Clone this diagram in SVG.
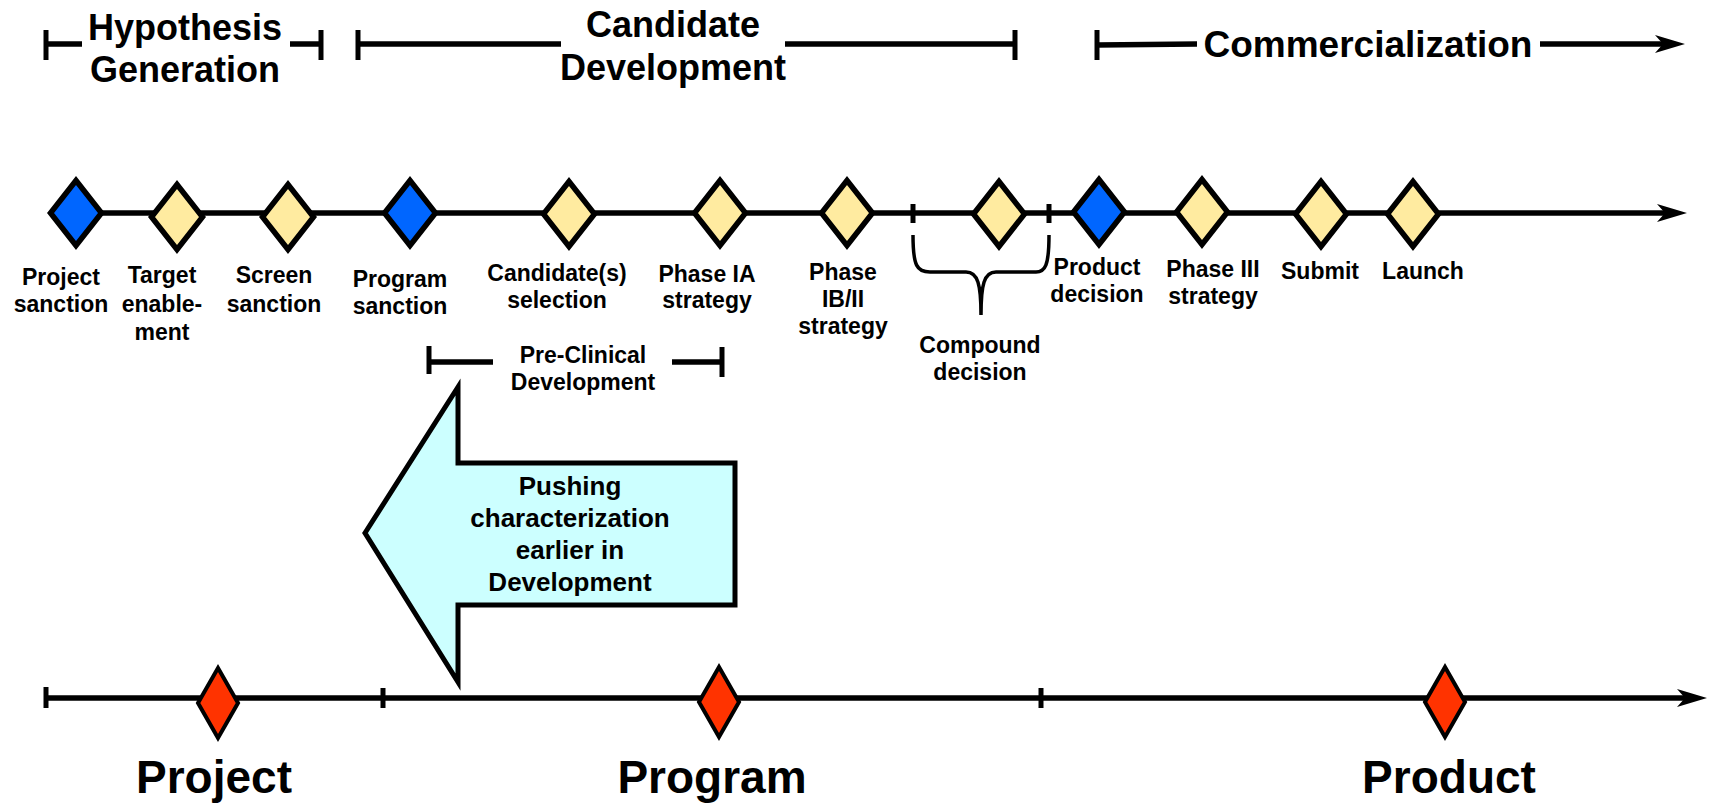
<svg xmlns="http://www.w3.org/2000/svg" width="1714" height="804" viewBox="0 0 1714 804">
<style>
text{font-family:"Liberation Sans",Arial,sans-serif;font-weight:bold;fill:#000;text-anchor:middle}
.hd{font-size:36px}
.hd2{font-size:37px}
.lb{font-size:23px}
.big{font-size:46px}
.ar{font-size:26px}
.ln{stroke:#000;stroke-width:5.5;fill:none}
.tk{stroke:#000;stroke-width:5}
.thin{stroke:#000;stroke-width:3.5;fill:none}
.blue{fill:#0066FF;stroke:#000;stroke-width:5.5;stroke-linejoin:miter}
.yel{fill:#FFEBA0;stroke:#000;stroke-width:5.5;stroke-linejoin:miter}
.red{fill:#FF3300;stroke:#000;stroke-width:4;stroke-linejoin:miter}
.bigarrow{fill:#CCFFFF;stroke:#000;stroke-width:5;stroke-linejoin:miter}
</style>
<defs>
<marker id="ah" markerUnits="userSpaceOnUse" viewBox="0 0 30 20" refX="10" refY="10" markerWidth="30" markerHeight="20" orient="auto">
<path d="M0,1 L30,10 L0,19 L8,10 Z" fill="#000"/>
</marker>
<polygon id="dm" points="0,-32.5 25.5,0 0,32.5 -25.5,0"/>
<polygon id="rdm" points="0,-35 20,0 0,35 -20,0"/>
</defs>

<g id="connectors">
<!-- phase brackets -->
<line class="ln" x1="46" y1="44" x2="82" y2="44"/>
<line class="tk" x1="46" y1="30" x2="46" y2="60"/>
<line class="ln" x1="290" y1="44" x2="321" y2="44"/>
<line class="tk" x1="321" y1="30" x2="321" y2="60"/>
<line class="ln" x1="358" y1="44" x2="561" y2="44"/>
<line class="tk" x1="358" y1="30" x2="358" y2="60"/>
<line class="ln" x1="785" y1="44" x2="1015" y2="44"/>
<line class="tk" x1="1015" y1="30" x2="1015" y2="60"/>
<line class="ln" x1="1097" y1="45" x2="1197" y2="44"/>
<line class="tk" x1="1097" y1="30" x2="1097" y2="60"/>
<line class="ln" x1="1540" y1="44" x2="1665" y2="44" marker-end="url(#ah)"/>
<!-- middle timeline -->
<line class="ln" x1="76" y1="213" x2="1667" y2="213" marker-end="url(#ah)"/>
<line class="tk" x1="913" y1="204" x2="913" y2="223"/>
<line class="tk" x1="1049" y1="204" x2="1049" y2="223"/>
<path class="thin" d="M913,235 C913,266 917,272 930,272 L966,272 C978,272 981,285 981,315 C981,285 984,272 996,272 L1036,272 C1045,272 1049,266 1049,235"/>
<!-- pre-clinical bracket -->
<line class="ln" x1="429" y1="362" x2="493" y2="362"/>
<line class="tk" x1="429" y1="346" x2="429" y2="374"/>
<line class="ln" x1="672" y1="362" x2="722" y2="362"/>
<line class="tk" x1="722" y1="347" x2="722" y2="377"/>
<!-- bottom timeline -->
<line class="ln" x1="46" y1="698" x2="1687" y2="698" marker-end="url(#ah)"/>
<line class="tk" x1="46" y1="687" x2="46" y2="708"/>
<line class="tk" x1="383" y1="688" x2="383" y2="708"/>
<line class="tk" x1="1041" y1="688" x2="1041" y2="708"/>
</g>

<g id="phase-hypothesis">
<text class="hd" x="185" y="40">Hypothesis</text>
<text class="hd" x="185" y="82">Generation</text>
</g>
<g id="phase-candidate">
<text class="hd" x="673" y="37">Candidate</text>
<text class="hd" x="673" y="80">Development</text>
</g>
<g id="phase-commercialization">
<text class="hd2" x="1368" y="57">Commercialization</text>
</g>

<g id="n-project-sanction">
<use href="#dm" class="blue" x="76" y="213"/>
<text class="lb" x="61" y="285">Project</text>
<text class="lb" x="61" y="312">sanction</text>
</g>
<g id="n-target-enablement">
<use href="#dm" class="yel" x="177" y="217"/>
<text class="lb" x="162" y="283">Target</text>
<text class="lb" x="162" y="312">enable-</text>
<text class="lb" x="162" y="340">ment</text>
</g>
<g id="n-screen-sanction">
<use href="#dm" class="yel" x="288" y="217"/>
<text class="lb" x="274" y="283">Screen</text>
<text class="lb" x="274" y="312">sanction</text>
</g>
<g id="n-program-sanction">
<use href="#dm" class="blue" x="410" y="213"/>
<text class="lb" x="400" y="287">Program</text>
<text class="lb" x="400" y="314">sanction</text>
</g>
<g id="n-candidate-selection">
<use href="#dm" class="yel" x="569" y="214"/>
<text class="lb" x="557" y="281">Candidate(s)</text>
<text class="lb" x="557" y="308">selection</text>
</g>
<g id="n-phase-ia">
<use href="#dm" class="yel" x="720" y="213"/>
<text class="lb" x="707" y="282">Phase IA</text>
<text class="lb" x="707" y="308">strategy</text>
</g>
<g id="n-phase-ib-ii">
<use href="#dm" class="yel" x="847" y="213"/>
<text class="lb" x="843" y="280">Phase</text>
<text class="lb" x="843" y="307">IB/II</text>
<text class="lb" x="843" y="334">strategy</text>
</g>
<g id="n-compound-decision">
<use href="#dm" class="yel" x="999" y="214"/>
<text class="lb" x="980" y="353">Compound</text>
<text class="lb" x="980" y="380">decision</text>
</g>
<g id="n-product-decision">
<use href="#dm" class="blue" x="1099" y="212"/>
<text class="lb" x="1097" y="275">Product</text>
<text class="lb" x="1097" y="302">decision</text>
</g>
<g id="n-phase-iii">
<use href="#dm" class="yel" x="1202" y="212"/>
<text class="lb" x="1213" y="277">Phase III</text>
<text class="lb" x="1213" y="304">strategy</text>
</g>
<g id="n-submit">
<use href="#dm" class="yel" x="1321" y="214"/>
<text class="lb" x="1320" y="279">Submit</text>
</g>
<g id="n-launch">
<use href="#dm" class="yel" x="1413" y="214"/>
<text class="lb" x="1423" y="279">Launch</text>
</g>

<g id="pre-clinical">
<text class="lb" x="583" y="363">Pre-Clinical</text>
<text class="lb" x="583" y="390">Development</text>
</g>

<g id="push-arrow">
<polygon class="bigarrow" points="365,533 458,387 458,463 735,463 735,605 458,605 458,682"/>
<text class="ar" x="570" y="495">Pushing</text>
<text class="ar" x="570" y="527">characterization</text>
<text class="ar" x="570" y="559">earlier in</text>
<text class="ar" x="570" y="591">Development</text>
</g>

<g id="n-project">
<use href="#rdm" class="red" x="218" y="703"/>
<text class="big" x="214" y="793">Project</text>
</g>
<g id="n-program">
<use href="#rdm" class="red" x="719" y="702"/>
<text class="big" x="712" y="793">Program</text>
</g>
<g id="n-product">
<use href="#rdm" class="red" x="1445" y="702"/>
<text class="big" x="1449" y="793">Product</text>
</g>
</svg>
